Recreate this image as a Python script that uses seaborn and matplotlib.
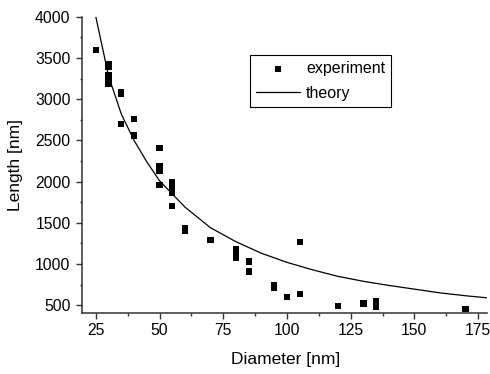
import numpy as np
import pandas as pd
import matplotlib
matplotlib.use("Agg")
import matplotlib.pyplot as plt
import seaborn as sns
from matplotlib.ticker import MultipleLocator

# experimental data (diameter nm, length nm)
exp_diameter = [25, 30, 30, 30, 30, 30, 35, 35, 35, 40, 40, 50, 50, 50, 50, 50,
                55, 55, 55, 55, 55, 60, 60, 70, 80, 80, 80, 80, 85, 85,
                95, 95, 100, 105, 105, 120, 130, 135, 135, 170]
exp_length = [3600, 3430, 3390, 3290, 3220, 3190, 3090, 3070, 2700, 2760, 2560,
              2410, 2190, 2150, 2130, 1960,
              1990, 1940, 1900, 1860, 1700, 1440, 1400, 1290, 1180, 1150, 1100, 1070,
              1030, 910, 740, 710, 600, 1265, 635, 495, 520, 555, 485, 450]

# theory curve
theory_diameter = [25, 30, 35, 40, 45, 50, 60, 70, 80, 90, 100, 110, 120, 130,
                   140, 150, 160, 170, 180]
theory_length = [4000, 3280, 2820, 2500, 2240, 2010, 1690, 1440, 1270, 1130, 1020,
                 930, 850, 790, 740, 695, 650, 615, 585]

x_ticks = [25, 50, 75, 100, 125, 150, 175]
y_ticks = [500, 1000, 1500, 2000, 2500, 3000, 3500, 4000]

sns.set_style("ticks")
plt.rcParams['font.family'] = ['Liberation Sans', 'DejaVu Sans']
plt.rcParams['font.size'] = 11.5
plt.rcParams['text.color'] = 'black'
plt.rcParams['axes.labelcolor'] = 'black'

exp_df = pd.DataFrame({"Diameter": exp_diameter, "Length": exp_length})
th_df = pd.DataFrame({"Diameter": theory_diameter, "Length": theory_length})

fig = plt.figure(figsize=(4.9, 3.74), dpi=100)
ax = fig.add_axes([0.168, 0.163, 0.826, 0.792])

sns.scatterplot(data=exp_df, x="Diameter", y="Length", marker="s", s=20,
                color="black", edgecolor="none", ax=ax, label="experiment")
sns.lineplot(data=th_df, x="Diameter", y="Length", color="black", lw=0.9,
             sort=False, estimator=None, ax=ax, label="theory")

ax.set_xlim(19.7, 178.5)
ax.set_ylim(405, 4000)
ax.set_xticks(x_ticks)
ax.set_yticks(y_ticks)
ax.xaxis.set_minor_locator(MultipleLocator(12.5))
ax.yaxis.set_minor_locator(MultipleLocator(250))
ax.tick_params(axis="both", which="major", direction="out", length=4, width=1,
               labelsize=11.3, color="#333333", labelcolor="black")
ax.tick_params(axis="x", which="major", pad=3.5)
ax.tick_params(axis="y", which="major", pad=4.5)
ax.tick_params(axis="both", which="minor", direction="out", length=1.8, width=1,
               color="#333333")
for side in ["top", "right"]:
    ax.spines[side].set_visible(False)
for side in ["left", "bottom"]:
    ax.spines[side].set_color("#333333")
    ax.spines[side].set_linewidth(1.1)

ax.set_xlabel("Diameter [nm]", fontsize=12.5)
ax.set_ylabel("Length [nm]", fontsize=12.5)
ax.xaxis.set_label_coords(0.502, -0.13)
ax.yaxis.set_label_coords(-0.147, 0.5)

leg = ax.legend(loc="upper left", bbox_to_anchor=(250 / 490, 1 - 55 / 374),
                bbox_transform=fig.transFigure, frameon=True, fancybox=False,
                edgecolor="black", framealpha=1, borderpad=0.4,
                handlelength=2.75, handletextpad=0.35, labelspacing=0.58,
                borderaxespad=0, fontsize=11.5)
leg.get_frame().set_linewidth(0.8)

fig.savefig("out.png", dpi=100)
